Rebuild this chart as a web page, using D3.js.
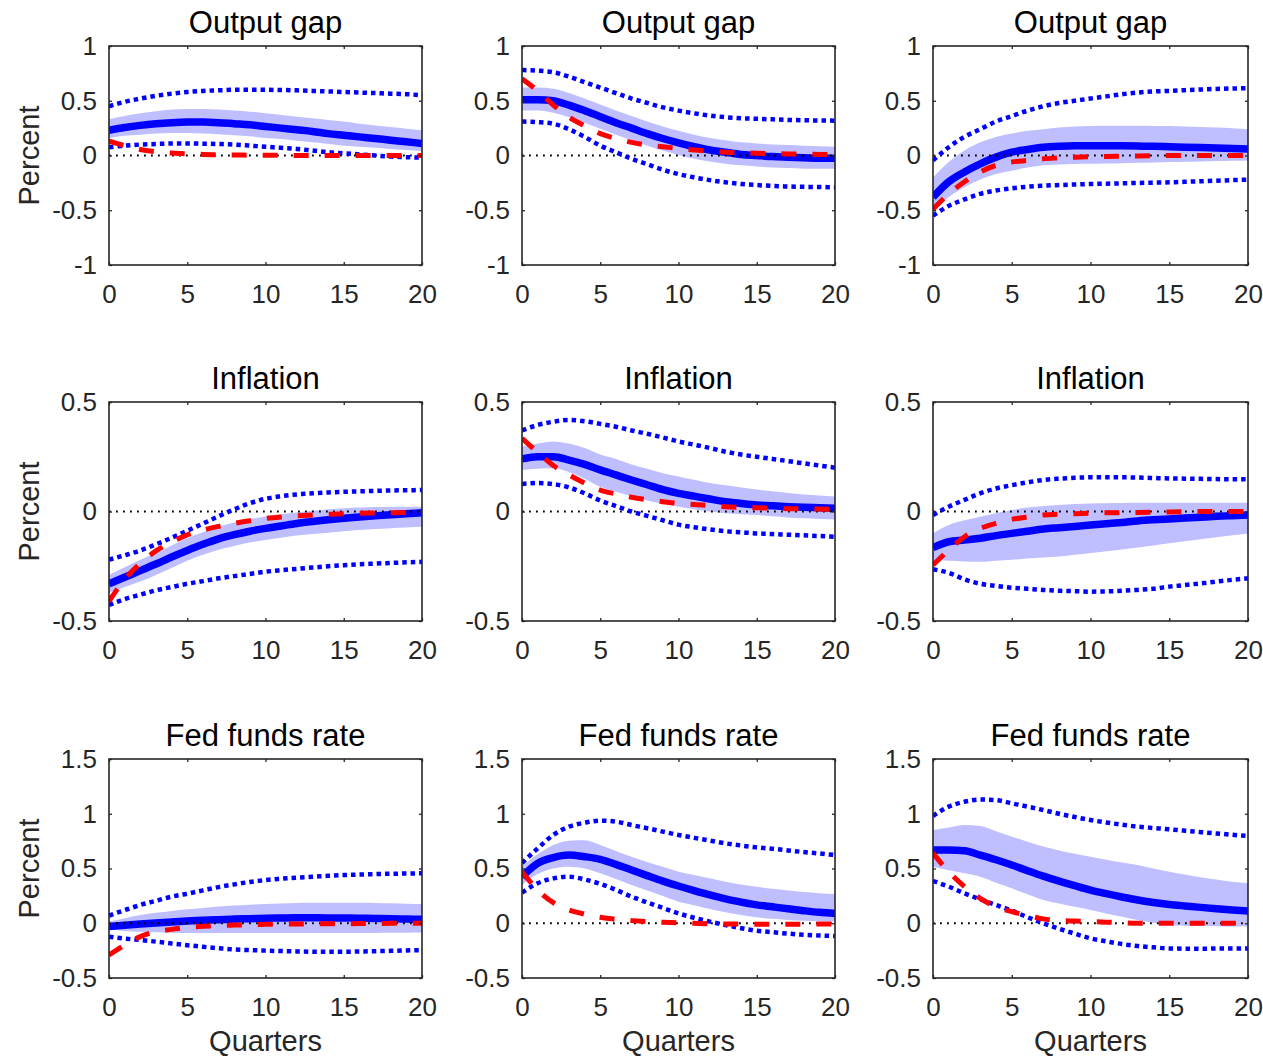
<!DOCTYPE html>
<html><head><meta charset="utf-8">
<script src="https://cdn.jsdelivr.net/npm/d3@7"></script>
<style>
body{margin:0;background:#fff;}
svg text{font-family:"Liberation Sans",Arial,Helvetica,sans-serif;}
</style>
</head><body>
<svg id="chart" width="1263" height="1058"></svg>
<script>
// ---------------- DATA ----------------
const quarters = [0,1,2,3,4,5,6,7,8,9,10,11,12,13,14,15,16,17,18,19,20];
const xTicks = [0,5,10,15,20];
const rowTitles = ["Output gap","Inflation","Fed funds rate"];
const yTicksOutput = [-1,-0.5,0,0.5,1];
const yTicksInflation = [-0.5,0,0.5];
const yTicksRate = [-0.5,0,0.5,1,1.5];
const yLabel = "Percent";
const xLabel = "Quarters";

// Output gap, column 1
const og1Median = [0.23,0.255,0.275,0.29,0.3,0.305,0.305,0.3,0.29,0.28,0.265,0.25,0.235,0.22,0.2,0.185,0.17,0.155,0.14,0.125,0.11];
const og1BandHi = [0.33,0.36,0.385,0.405,0.42,0.425,0.425,0.42,0.41,0.4,0.385,0.37,0.355,0.34,0.325,0.31,0.29,0.275,0.26,0.245,0.23];
const og1BandLo = [0.16,0.18,0.19,0.2,0.205,0.205,0.2,0.195,0.185,0.175,0.16,0.15,0.135,0.12,0.105,0.09,0.08,0.07,0.06,0.05,0.04];
const og1Upper  = [0.45,0.49,0.52,0.545,0.565,0.58,0.59,0.595,0.6,0.6,0.6,0.598,0.595,0.59,0.585,0.58,0.575,0.57,0.565,0.56,0.55];
const og1Lower  = [0.075,0.09,0.1,0.105,0.11,0.11,0.108,0.105,0.1,0.09,0.08,0.07,0.06,0.045,0.03,0.02,0.01,0.0,-0.01,-0.015,-0.02];
const og1Alt    = [0.13,0.09,0.055,0.035,0.022,0.015,0.01,0.007,0.005,0.003,0.002,0.001,0,0,0,0,0,0,0,0,0];

// Output gap, column 2
const og2Median = [0.51,0.51,0.5,0.46,0.41,0.355,0.3,0.25,0.2,0.155,0.115,0.08,0.05,0.03,0.01,0,-0.01,-0.015,-0.02,-0.025,-0.025];
const og2BandHi = [0.62,0.62,0.61,0.57,0.52,0.465,0.41,0.36,0.31,0.265,0.225,0.19,0.16,0.14,0.12,0.11,0.1,0.095,0.09,0.085,0.08];
const og2BandLo = [0.41,0.41,0.39,0.35,0.3,0.245,0.19,0.14,0.09,0.045,0.005,-0.03,-0.055,-0.075,-0.09,-0.1,-0.11,-0.115,-0.12,-0.12,-0.12];
const og2Upper  = [0.78,0.775,0.76,0.72,0.67,0.62,0.57,0.52,0.48,0.44,0.41,0.385,0.365,0.35,0.34,0.335,0.33,0.325,0.322,0.32,0.318];
const og2Lower  = [0.31,0.305,0.29,0.24,0.17,0.09,0.03,-0.03,-0.08,-0.13,-0.17,-0.2,-0.225,-0.245,-0.26,-0.27,-0.278,-0.283,-0.286,-0.288,-0.29];
const og2Alt    = [0.7,0.59,0.46,0.35,0.27,0.2,0.155,0.12,0.095,0.08,0.065,0.05,0.04,0.03,0.025,0.02,0.017,0.014,0.012,0.01,0.01];

// Output gap, column 3
const og3Median = [-0.38,-0.24,-0.15,-0.076,-0.015,0.03,0.055,0.075,0.085,0.09,0.09,0.09,0.088,0.086,0.084,0.08,0.076,0.072,0.068,0.064,0.06];
const og3BandHi = [-0.2,-0.06,0.045,0.12,0.17,0.2,0.225,0.24,0.255,0.265,0.27,0.272,0.272,0.272,0.27,0.27,0.265,0.26,0.255,0.248,0.24];
const og3BandLo = [-0.5,-0.38,-0.29,-0.22,-0.17,-0.14,-0.11,-0.09,-0.082,-0.078,-0.076,-0.073,-0.07,-0.067,-0.063,-0.06,-0.057,-0.054,-0.051,-0.048,-0.045];
const og3Upper  = [-0.045,0.076,0.17,0.24,0.31,0.36,0.41,0.45,0.48,0.5,0.52,0.54,0.56,0.575,0.585,0.59,0.597,0.603,0.608,0.612,0.615];
const og3Lower  = [-0.55,-0.46,-0.4,-0.35,-0.32,-0.3,-0.285,-0.275,-0.27,-0.265,-0.26,-0.257,-0.254,-0.251,-0.248,-0.245,-0.24,-0.235,-0.23,-0.225,-0.22];
const og3Alt    = [-0.49,-0.35,-0.24,-0.15,-0.09,-0.06,-0.045,-0.03,-0.022,-0.015,-0.01,-0.008,-0.006,-0.004,-0.002,0,0,0,0,0,0];

// Inflation, column 1
const inf1Median = [-0.33,-0.3,-0.27,-0.24,-0.208,-0.178,-0.15,-0.125,-0.106,-0.09,-0.077,-0.066,-0.055,-0.046,-0.038,-0.031,-0.025,-0.02,-0.015,-0.01,-0.006];
const inf1BandHi = [-0.29,-0.255,-0.22,-0.19,-0.155,-0.122,-0.095,-0.07,-0.05,-0.035,-0.023,-0.013,-0.005,0.003,0.01,0.015,0.018,0.02,0.021,0.022,0.022];
const inf1BandLo = [-0.37,-0.345,-0.32,-0.29,-0.258,-0.225,-0.198,-0.175,-0.157,-0.142,-0.13,-0.12,-0.11,-0.103,-0.097,-0.09,-0.085,-0.08,-0.076,-0.073,-0.07];
const inf1Upper  = [-0.22,-0.2,-0.178,-0.15,-0.12,-0.088,-0.055,-0.022,0.01,0.038,0.058,0.07,0.078,0.083,0.087,0.09,0.092,0.094,0.096,0.097,0.098];
const inf1Lower  = [-0.427,-0.4,-0.38,-0.36,-0.345,-0.33,-0.318,-0.305,-0.295,-0.285,-0.275,-0.268,-0.262,-0.256,-0.25,-0.245,-0.241,-0.238,-0.235,-0.232,-0.23];
const inf1Alt    = [-0.41,-0.31,-0.237,-0.18,-0.14,-0.107,-0.085,-0.068,-0.054,-0.042,-0.032,-0.025,-0.02,-0.016,-0.013,-0.01,-0.008,-0.007,-0.006,-0.005,-0.005];

// Inflation, column 2
const inf2Median = [0.24,0.25,0.25,0.235,0.215,0.19,0.167,0.144,0.122,0.1,0.083,0.07,0.057,0.045,0.037,0.03,0.026,0.022,0.019,0.017,0.015];
const inf2BandHi = [0.296,0.31,0.32,0.31,0.29,0.26,0.24,0.215,0.195,0.175,0.16,0.145,0.13,0.12,0.11,0.1,0.092,0.085,0.078,0.073,0.068];
const inf2BandLo = [0.19,0.195,0.197,0.18,0.15,0.113,0.09,0.07,0.05,0.035,0.022,0.01,0,-0.008,-0.012,-0.016,-0.022,-0.027,-0.031,-0.034,-0.036];
const inf2Upper  = [0.37,0.395,0.41,0.418,0.412,0.4,0.387,0.37,0.355,0.338,0.32,0.305,0.29,0.273,0.26,0.25,0.24,0.23,0.22,0.21,0.2];
const inf2Lower  = [0.126,0.13,0.125,0.11,0.083,0.05,0.025,0,-0.02,-0.04,-0.06,-0.072,-0.082,-0.09,-0.095,-0.1,-0.103,-0.106,-0.109,-0.112,-0.115];
const inf2Alt    = [0.334,0.27,0.21,0.167,0.13,0.098,0.08,0.065,0.054,0.045,0.037,0.032,0.027,0.022,0.019,0.017,0.015,0.013,0.012,0.011,0.01];

// Inflation, column 3
const inf3Median = [-0.165,-0.138,-0.13,-0.122,-0.11,-0.1,-0.09,-0.08,-0.074,-0.068,-0.062,-0.056,-0.05,-0.043,-0.038,-0.034,-0.03,-0.026,-0.022,-0.019,-0.016];
const inf3BandHi = [-0.1,-0.062,-0.04,-0.024,-0.008,0.007,0.018,0.025,0.03,0.034,0.037,0.038,0.039,0.04,0.04,0.04,0.04,0.04,0.04,0.04,0.04];
const inf3BandLo = [-0.22,-0.225,-0.228,-0.23,-0.225,-0.22,-0.215,-0.21,-0.206,-0.198,-0.19,-0.182,-0.173,-0.164,-0.155,-0.145,-0.136,-0.127,-0.118,-0.109,-0.1];
const inf3Upper  = [-0.016,0.022,0.053,0.083,0.105,0.12,0.133,0.144,0.15,0.154,0.156,0.156,0.156,0.155,0.153,0.151,0.15,0.149,0.148,0.147,0.147];
const inf3Lower  = [-0.264,-0.28,-0.31,-0.33,-0.34,-0.348,-0.353,-0.358,-0.362,-0.364,-0.366,-0.365,-0.362,-0.358,-0.353,-0.343,-0.336,-0.328,-0.32,-0.312,-0.305];
const inf3Alt    = [-0.244,-0.176,-0.115,-0.077,-0.054,-0.036,-0.025,-0.016,-0.012,-0.01,-0.008,-0.006,-0.005,-0.004,-0.003,-0.002,-0.001,0,0,0,0];

// Fed funds rate, column 1
const ffr1Median = [-0.03,-0.018,-0.007,0.003,0.012,0.02,0.027,0.033,0.038,0.042,0.045,0.048,0.05,0.05,0.049,0.048,0.046,0.044,0.041,0.038,0.036];
const ffr1BandHi = [0.015,0.045,0.075,0.095,0.112,0.127,0.14,0.152,0.162,0.17,0.175,0.18,0.185,0.188,0.188,0.188,0.187,0.185,0.182,0.178,0.175];
const ffr1BandLo = [-0.06,-0.07,-0.077,-0.082,-0.087,-0.09,-0.09,-0.09,-0.09,-0.09,-0.09,-0.09,-0.09,-0.09,-0.09,-0.09,-0.09,-0.088,-0.087,-0.086,-0.085];
const ffr1Upper  = [0.07,0.12,0.167,0.205,0.243,0.27,0.3,0.33,0.355,0.377,0.395,0.407,0.417,0.425,0.433,0.44,0.445,0.449,0.452,0.454,0.456];
const ffr1Lower  = [-0.122,-0.14,-0.153,-0.168,-0.185,-0.2,-0.215,-0.228,-0.24,-0.245,-0.25,-0.254,-0.257,-0.26,-0.26,-0.26,-0.258,-0.255,-0.252,-0.248,-0.245];
const ffr1Alt    = [-0.29,-0.2,-0.122,-0.077,-0.056,-0.037,-0.028,-0.022,-0.017,-0.013,-0.01,-0.008,-0.007,-0.006,-0.005,-0.004,-0.003,-0.002,-0.001,0,0];

// Fed funds rate, column 2
const ffr2Median = [0.425,0.547,0.6,0.623,0.608,0.584,0.538,0.486,0.435,0.385,0.34,0.298,0.258,0.222,0.193,0.168,0.15,0.132,0.115,0.1,0.09];
const ffr2BandHi = [0.517,0.63,0.715,0.754,0.758,0.715,0.66,0.608,0.56,0.515,0.47,0.44,0.41,0.38,0.355,0.334,0.315,0.3,0.285,0.275,0.267];
const ffr2BandLo = [0.35,0.45,0.5,0.517,0.5,0.456,0.405,0.35,0.3,0.248,0.197,0.165,0.13,0.1,0.075,0.054,0.04,0.03,0.022,0.018,0.015];
const ffr2Upper  = [0.55,0.684,0.806,0.882,0.918,0.937,0.928,0.897,0.868,0.837,0.806,0.78,0.755,0.73,0.71,0.693,0.68,0.665,0.65,0.637,0.623];
const ffr2Lower  = [0.28,0.365,0.41,0.425,0.4,0.36,0.305,0.243,0.19,0.14,0.09,0.05,0.015,-0.016,-0.045,-0.068,-0.082,-0.095,-0.105,-0.112,-0.117];
const ffr2Alt    = [0.47,0.304,0.188,0.121,0.084,0.054,0.036,0.024,0.015,0.009,0.005,0,-0.005,-0.007,-0.008,-0.01,-0.01,-0.009,-0.008,-0.007,-0.007];

// Fed funds rate, column 3
const ffr3Median = [0.67,0.67,0.663,0.623,0.58,0.532,0.48,0.43,0.385,0.343,0.303,0.27,0.24,0.212,0.19,0.172,0.158,0.145,0.133,0.122,0.112];
const ffr3BandHi = [0.852,0.875,0.897,0.888,0.84,0.79,0.745,0.7,0.665,0.635,0.608,0.58,0.555,0.532,0.5,0.471,0.445,0.42,0.4,0.38,0.365];
const ffr3BandLo = [0.517,0.485,0.456,0.425,0.37,0.319,0.265,0.212,0.18,0.15,0.121,0.09,0.06,0.03,0.005,-0.016,-0.022,-0.026,-0.028,-0.03,-0.03];
const ffr3Upper  = [0.98,1.065,1.11,1.13,1.125,1.095,1.065,1.034,1.0,0.97,0.943,0.92,0.9,0.882,0.87,0.858,0.845,0.832,0.82,0.808,0.797];
const ffr3Lower  = [0.386,0.334,0.273,0.218,0.167,0.115,0.055,0,-0.05,-0.095,-0.138,-0.165,-0.19,-0.208,-0.22,-0.23,-0.232,-0.232,-0.231,-0.23,-0.23];
const ffr3Alt    = [0.64,0.47,0.334,0.227,0.15,0.106,0.07,0.04,0.025,0.02,0.015,0.01,0.005,0,0,0,0,0,0,0,0];

// ---------------- PANEL TABLE ----------------
const rowYTicks = [yTicksOutput, yTicksInflation, yTicksRate];
const panels = [
  {median:og1Median, hi:og1BandHi, lo:og1BandLo, up:og1Upper, dn:og1Lower, alt:og1Alt},
  {median:og2Median, hi:og2BandHi, lo:og2BandLo, up:og2Upper, dn:og2Lower, alt:og2Alt},
  {median:og3Median, hi:og3BandHi, lo:og3BandLo, up:og3Upper, dn:og3Lower, alt:og3Alt},
  {median:inf1Median, hi:inf1BandHi, lo:inf1BandLo, up:inf1Upper, dn:inf1Lower, alt:inf1Alt},
  {median:inf2Median, hi:inf2BandHi, lo:inf2BandLo, up:inf2Upper, dn:inf2Lower, alt:inf2Alt},
  {median:inf3Median, hi:inf3BandHi, lo:inf3BandLo, up:inf3Upper, dn:inf3Lower, alt:inf3Alt},
  {median:ffr1Median, hi:ffr1BandHi, lo:ffr1BandLo, up:ffr1Upper, dn:ffr1Lower, alt:ffr1Alt},
  {median:ffr2Median, hi:ffr2BandHi, lo:ffr2BandLo, up:ffr2Upper, dn:ffr2Lower, alt:ffr2Alt},
  {median:ffr3Median, hi:ffr3BandHi, lo:ffr3BandLo, up:ffr3Upper, dn:ffr3Lower, alt:ffr3Alt}
];

// ---------------- LAYOUT ----------------
const colLeft = [109, 522, 933];
const colW = [313, 313, 315];
const rowTop = [46, 402, 759];
const rowH = 219;
const axisColor = "#262626";
const FONT = '"Liberation Sans",Arial,Helvetica,sans-serif';
const curve = d3.curveMonotoneX;

const svg = d3.select("#chart");
const defs = svg.append("defs");

panels.forEach((p, i) => {
  const r = Math.floor(i / 3), c = i % 3;
  const yt = rowYTicks[r];
  const left = colLeft[c], w = colW[c], top = rowTop[r];
  const x = d3.scaleLinear().domain([0, 20]).range([left, left + w]);
  const y = d3.scaleLinear().domain([yt[0], yt[yt.length - 1]]).range([top + rowH, top]);

  defs.append("clipPath").attr("id", "clip" + i)
    .append("rect").attr("x", left).attr("y", top).attr("width", w).attr("height", rowH);

  const g = svg.append("g");
  const plot = g.append("g").attr("clip-path", `url(#clip${i})`);

  const pts = quarters.map((q, k) => ({q, med:p.median[k], hi:p.hi[k], lo:p.lo[k], up:p.up[k], dn:p.dn[k], alt:p.alt[k]}));

  // band
  plot.append("path").datum(pts)
    .attr("d", d3.area().curve(curve).x(d => x(d.q)).y0(d => y(d.lo)).y1(d => y(d.hi)))
    .attr("fill", "#bfbfff").attr("stroke", "none");

  // median
  plot.append("path").datum(pts)
    .attr("d", d3.line().curve(curve).x(d => x(d.q)).y(d => y(d.med)))
    .attr("fill", "none").attr("stroke", "#0000ff").attr("stroke-width", 7.5)
    .attr("stroke-linejoin", "round");

  // zero line
  plot.append("path").datum([quarters[0], quarters[quarters.length - 1]])
    .attr("d", d3.line().x(d => x(d)).y(() => y(0)))
    .attr("fill", "none").attr("stroke", "#000").attr("stroke-width", 1.8)
    .attr("stroke-dasharray", "1.8,5.2");

  // dotted percentile lines
  ["up", "dn"].forEach(key => {
    plot.append("path").datum(pts)
      .attr("d", d3.line().curve(curve).x(d => x(d.q)).y(d => y(d[key])))
      .attr("fill", "none").attr("stroke", "#0000ff").attr("stroke-width", 4.5)
      .attr("stroke-dasharray", "4.5,4");
  });

  // red dashed
  plot.append("path").datum(pts)
    .attr("d", d3.line().curve(curve).x(d => x(d.q)).y(d => y(d.alt)))
    .attr("fill", "none").attr("stroke", "#ff0000").attr("stroke-width", 5)
    .attr("stroke-dasharray", "15,16");

  // axes
  const styleAxis = sel => {
    sel.select(".domain").remove();
    sel.selectAll(".tick line").attr("stroke", axisColor).attr("stroke-width", 1.3);
    sel.selectAll(".tick text").attr("fill", axisColor).attr("font-size", 26).attr("font-family", FONT);
    sel.attr("font-family", FONT).attr("font-size", 26);
  };
  g.append("g").attr("transform", `translate(0,${top + rowH})`)
    .call(d3.axisBottom(x).tickValues(xTicks).tickSizeInner(-3).tickSizeOuter(0).tickPadding(20).tickFormat(d => String(d)))
    .call(styleAxis);
  g.append("g").attr("transform", `translate(0,${top})`)
    .call(d3.axisTop(x).tickValues(xTicks).tickSizeInner(-3).tickSizeOuter(0).tickFormat(""))
    .call(styleAxis);
  g.append("g").attr("transform", `translate(${left},0)`)
    .call(d3.axisLeft(y).tickValues(yt).tickSizeInner(-3).tickSizeOuter(0).tickPadding(12).tickFormat(d => String(d)))
    .call(styleAxis);
  g.append("g").attr("transform", `translate(${left + w},0)`)
    .call(d3.axisRight(y).tickValues(yt).tickSizeInner(-3).tickSizeOuter(0).tickFormat(""))
    .call(styleAxis);

  // box
  g.append("rect").attr("x", left).attr("y", top).attr("width", w).attr("height", rowH)
    .attr("fill", "none").attr("stroke", axisColor).attr("stroke-width", 1.6);

  // title
  g.append("text").attr("x", left + w / 2).attr("y", top - 13)
    .attr("text-anchor", "middle").attr("font-size", 31).attr("fill", "#000")
    .text(rowTitles[r]);

  if (c === 0) {
    g.append("text").attr("transform", `translate(39,${top + rowH / 2}) rotate(-90)`)
      .attr("text-anchor", "middle").attr("font-size", 29).attr("fill", axisColor)
      .text(yLabel);
  }
  if (r === 2) {
    g.append("text").attr("x", left + w / 2).attr("y", top + rowH + 73)
      .attr("text-anchor", "middle").attr("font-size", 29).attr("fill", axisColor)
      .text(xLabel);
  }
});
</script>
</body></html>
